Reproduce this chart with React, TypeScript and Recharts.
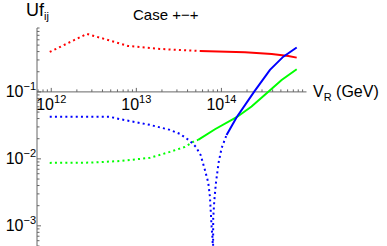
import {LineChart, Line, XAxis, YAxis, ReferenceLine} from "recharts";

// V_R (GeV) and |Uf_ij|
const redDottedX = [9.6e11, 2.62e12, 4.62e12, 7.94e12, 1.89e13, 5.58e13];
const redDottedY = [0.395, 0.734, 0.597, 0.486, 0.438, 0.409];
const redSolidX = [5.58e13, 1.89e14, 3.9e14, 6.11e14, 7.67e14];
const redSolidY = [0.409, 0.392, 0.369, 0.344, 0.325];

const greenDottedX = [9.6e11, 3.0e12, 6.4e12, 1.44e13, 2.48e13, 3.72e13, 4.88e13, 5.33e13];
const greenDottedY = [0.00871, 0.0088, 0.0093, 0.01035, 0.0127, 0.0151, 0.0186, 0.0192];
const greenSolidX = [5.33e13, 8.4e13, 1.51e14, 2.26e14, 3.4e14, 5.1e14, 7.67e14];
const greenSolidY = [0.0192, 0.0277, 0.0419, 0.0604, 0.0957, 0.151, 0.218];

const blueDottedX = [9.6e11, 4.88e12, 6.4e12, 1.44e13, 2.48e13, 3.25e13, 4.26e13, 5.01e13, 5.69e13,
    6.39e13, 7.0e13, 7.33e13, 7.67e13, 7.88e13, 7.94e13, 8.01e13, 8.23e13, 8.61e13, 9.27e13, 1.005e14, 1.15e14];
const blueDottedY = [0.0424, 0.0424, 0.0392, 0.0322, 0.0271, 0.0236, 0.0186, 0.0151, 0.01148,
    0.00686, 0.00443, 0.00271, 0.000966, 0.000618, 0.0001, 0.0013, 0.00228, 0.00434, 0.00881, 0.01445, 0.0228];
const blueSolidX = [1.15e14, 1.51e14, 2.43e14, 3.72e14, 5.34e14, 7.67e14];
const blueSolidY = [0.0228, 0.0419, 0.101, 0.213, 0.336, 0.46];

const xDomain = [6.8e11, 1e15];
const yDomain = [5e-4, 0.9];
const xDecades = [1e11, 1e12, 1e13, 1e14];
const yDecades = [1e-4, 1e-3, 1e-2, 1e-1];
const mantissas = [1, 2, 3, 4, 5, 6, 7, 8, 9];

const W = 387;
const H = 246;
const TOP = 28;
const AXIS_X = 37;
const FONT = "'Liberation Sans', Arial, sans-serif";
const GRAY = "#666";

const pts = (xs: number[], ys: number[]) => xs.map((x, i) => ({x, y: ys[i]}));

const inside = (v: number, d: number[]) => v >= d[0] * 0.999 && v <= d[1] * 1.001;
const xTicks = xDecades.flatMap(d => mantissas.map(m => m * d)).filter(v => inside(v, xDomain));
const yTicks = yDecades.flatMap(d => mantissas.map(m => m * d)).filter(v => inside(v, yDomain));

const isMajor = (v: number) => Math.abs(Math.log10(v) - Math.round(Math.log10(v))) < 1e-6;

// pixel row where the x axis crosses y = 0.1
const l = Math.log10;
const AXIS_Y = TOP + (H - TOP) * (l(yDomain[1]) - l(0.1)) / (l(yDomain[1]) - l(yDomain[0]));

const XTick = (props: any) => {
    const {x, payload} = props;
    const major = isMajor(payload.value);
    const exp = Math.round(l(payload.value));
    return (
        <g>
            <line x1={x} x2={x} y1={AXIS_Y} y2={AXIS_Y - (major ? 4 : 2.5)} stroke={GRAY} strokeWidth={1}/>
            {major && (
                <text x={x} y={AXIS_Y + 18} textAnchor="middle" fontFamily={FONT} fontSize={16} fill="#000">
                    10<tspan dy={-7} fontSize={11}>{exp}</tspan>
                </text>
            )}
        </g>
    );
};

const YTick = (props: any) => {
    const {y, payload} = props;
    const major = isMajor(payload.value);
    const exp = Math.round(l(payload.value));
    return (
        <g>
            <line x1={AXIS_X} x2={AXIS_X + (major ? 4 : 2.5)} y1={y} y2={y} stroke={GRAY} strokeWidth={1}/>
            {major && (
                <text x={AXIS_X - 1} y={y + 5} textAnchor="end" fontFamily={FONT} fontSize={16} fill="#000">
                    10<tspan dy={-7} fontSize={11}>{"\u2212" + Math.abs(exp)}</tspan>
                </text>
            )}
        </g>
    );
};

const dotted = {strokeWidth: 2, strokeDasharray: "2 3.2", dot: false, isAnimationActive: false};
const solid = {strokeWidth: 2, dot: false, isAnimationActive: false};

const App = () => {
    return (
        <div style={{position: "absolute", left: 0, top: 0, width: W, height: H, background: "#fff"}}>
            <LineChart width={W} height={H} margin={{top: TOP, right: 80.5, bottom: -1, left: 0}}>
                <XAxis dataKey="x" type="number" scale="log" domain={xDomain} allowDataOverflow
                       ticks={xTicks} height={1} axisLine={false} tickLine={false} tick={<XTick/>} interval={0}/>
                <YAxis dataKey="y" type="number" scale="log" domain={yDomain} allowDataOverflow
                       ticks={yTicks} width={AXIS_X} axisLine={{stroke: GRAY}} tickLine={false}
                       tick={<YTick/>} interval={0}/>
                <ReferenceLine y={0.1} stroke={GRAY} strokeWidth={1}/>
                <Line data={pts(redDottedX, redDottedY)} dataKey="y" stroke="#ff0000" {...dotted}/>
                <Line data={pts(redSolidX, redSolidY)} dataKey="y" stroke="#ff0000" {...solid}/>
                <Line data={pts(greenDottedX, greenDottedY)} dataKey="y" stroke="#00ff00" {...dotted}/>
                <Line data={pts(greenSolidX, greenSolidY)} dataKey="y" stroke="#00ff00" {...solid}/>
                <Line data={pts(blueDottedX, blueDottedY)} dataKey="y" stroke="#0000ff" {...dotted}/>
                <Line data={pts(blueSolidX, blueSolidY)} dataKey="y" stroke="#0000ff" {...solid}/>
            </LineChart>
            <svg width={W} height={H} style={{position: "absolute", left: 0, top: 0, pointerEvents: "none"}}>
                <text x={26} y={16} fontFamily={FONT} fontSize={18} fill="#000">
                    Uf<tspan dy={4} fontSize={11}>ij</tspan>
                </text>
                <text x={133} y={19.5} fontFamily={FONT} fontSize={15} fill="#000">Case +{"\u2212"}+</text>
                <text x={313} y={97} fontFamily={FONT} fontSize={16} fill="#000">
                    V<tspan dy={4} fontSize={11}>R</tspan><tspan dy={-4}> (GeV)</tspan>
                </text>
            </svg>
        </div>
    );
};

export default App;
